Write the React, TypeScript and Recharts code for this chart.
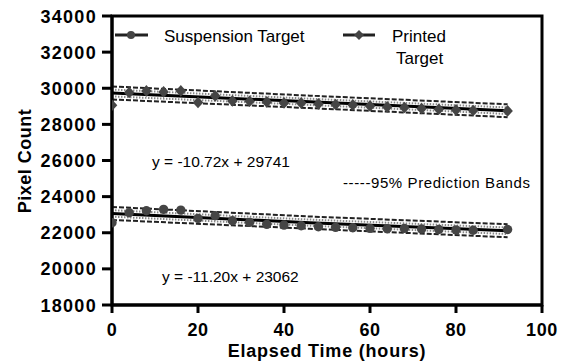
import React from "react";
import {
  ComposedChart,
  Customized,
  Line,
  ReferenceArea,
  Scatter,
  XAxis,
  YAxis,
} from "recharts";

// sampling times (hours)
const hours = [0, 4, 8, 12, 16, 20, 24, 28, 32, 36, 40, 44, 48, 52, 56, 60, 64, 68, 72, 76, 80, 84, 92];
const printedCounts = [
  29062, 29764, 29853, 29797, 29853, 29211, 29576, 29300, 29283, 29244, 29189, 29189,
  29134, 29100, 29078, 29023, 28968, 28935, 28879, 28840, 28802, 28769, 28746,
];
const suspensionCounts = [
  22553, 23106, 23216, 23294, 23255, 22796, 22940, 22664, 22575, 22465, 22426, 22387,
  22332, 22299, 22276, 22243, 22221, 22240, 22210, 22180, 22160, 22140, 22180,
];

// fit lines and bands, read at start / middle / end
const bandHours = [0, 46, 92];
const printedFit = [29741, 29248, 28755];
const printedUpper = [30100, 29590, 29110];
const printedLower = [29380, 28900, 28400];
const printedInnerUp = [29930, 29420, 28935];
const printedInnerLo = [29550, 29075, 28575];
const suspensionFit = [23070, 22560, 22110];
const suspensionUpper = [23430, 22900, 22470];
const suspensionLower = [22710, 22220, 21750];
const suspensionInnerUp = [23250, 22730, 22290];
const suspensionInnerLo = [22890, 22390, 21930];

const xTicks = [0, 20, 40, 60, 80, 100];
const yTicks = [18000, 20000, 22000, 24000, 26000, 28000, 30000, 32000, 34000];

const FONT = "'Liberation Sans', Arial, Helvetica, sans-serif";

const pts = (xs: number[], ys: number[]) => xs.map((x, i) => ({ x, y: ys[i] }));
const printedPts = pts(hours, printedCounts);
const suspensionPts = pts(hours, suspensionCounts);

const XTick = ({ x, y, payload }: any) => (
  <text x={x} y={y} dy={21} textAnchor="middle" fontFamily={FONT} fontWeight="bold" fontSize={18} letterSpacing={0.6} fill="#000">
    {payload.value}
  </text>
);

const YTick = ({ x, y, payload }: any) => (
  <text x={x - 3} y={y} dy={6.5} textAnchor="end" fontFamily={FONT} fontWeight="bold" fontSize={18} letterSpacing={1.3} fill="#000">
    {payload.value}
  </text>
);

const Dot = (p: any) => <circle cx={p.cx} cy={p.cy} r={4.7} fill="#454545" />;
const Diamond = (p: any) => (
  <path d={`M${p.cx},${p.cy - 5.8}L${p.cx + 5.3},${p.cy}L${p.cx},${p.cy + 5.8}L${p.cx - 5.3},${p.cy}Z`} fill="#454545" />
);

function Annotations() {
  const txt = { fontFamily: FONT, fill: "#000" };
  return (
    <g>
      {/* legend */}
      <line x1={115} y1={35} x2={148} y2={35} stroke="#222" strokeWidth={3} />
      <circle cx={131} cy={35} r={4} fill="#454545" />
      <text x={164} y={42} fontSize={17} {...txt}>Suspension Target</text>
      <line x1={343} y1={35} x2={375} y2={35} stroke="#222" strokeWidth={3} />
      <path d="M359,30L364,35L359,40L354,35Z" fill="#454545" />
      <text x={392} y={42} fontSize={17} {...txt}>Printed</text>
      <text x={396} y={64} fontSize={17} {...txt}>Target</text>

      <text x={152} y={167} fontSize={15.5} {...txt}>y = -10.72x + 29741</text>
      <text x={343} y={188} fontSize={15} letterSpacing={0.6} {...txt}>-----95% Prediction Bands</text>
      <text x={162} y={282} fontSize={15.5} {...txt}>y = -11.20x + 23062</text>

      <text x={327} y={357} textAnchor="middle" fontSize={18} fontWeight="bold" letterSpacing={0.8} {...txt}>
        Elapsed Time (hours)
      </text>
      <text
        x={25}
        y={161}
        transform="rotate(-90 25 161)"
        textAnchor="middle"
        dominantBaseline="central"
        fontSize={18}
        fontWeight="bold"
        letterSpacing={0.5}
        {...txt}
      >
        Pixel Count
      </text>
    </g>
  );
}

const bandLine = (key: string, ys: number[], dash: string, color: string, w: number) => (
  <Line
    key={key}
    data={pts(bandHours, ys)}
    dataKey="y"
    type="linear"
    stroke={color}
    strokeWidth={w}
    strokeDasharray={dash}
    dot={false}
    activeDot={false}
    isAnimationActive={false}
    legendType="none"
  />
);

export default function App() {
  return (
    <div style={{ position: "absolute", left: 0, top: 0, background: "#fff" }}>
      <ComposedChart width={571} height={363} margin={{ top: 16, right: 29, bottom: 0, left: 0 }}>
        <XAxis
          type="number"
          dataKey="x"
          domain={[0, 100]}
          ticks={xTicks}
          height={58}
          tickSize={8}
          axisLine={{ stroke: "#000", strokeWidth: 3 }}
          tickLine={{ stroke: "#000", strokeWidth: 3 }}
          tick={<XTick />}
          allowDataOverflow
        />
        <YAxis
          type="number"
          dataKey="y"
          domain={[18000, 34000]}
          ticks={yTicks}
          width={112}
          tickSize={10}
          axisLine={{ stroke: "#000", strokeWidth: 3 }}
          tickLine={{ stroke: "#000", strokeWidth: 3 }}
          tick={<YTick />}
          allowDataOverflow
        />
        <ReferenceArea x1={0} x2={100} y1={18000} y2={34000} fill="none" stroke="#000" strokeWidth={3} ifOverflow="visible" />

        {bandLine("pu", printedUpper, "5 2", "#222", 2)}
        {bandLine("pl", printedLower, "5 2", "#222", 2)}
        {bandLine("piu", printedInnerUp, "1.5 1.5", "#888", 2)}
        {bandLine("pil", printedInnerLo, "1.5 1.5", "#888", 2)}
        {bandLine("su", suspensionUpper, "5 2", "#222", 2)}
        {bandLine("sl", suspensionLower, "5 2", "#222", 2)}
        {bandLine("siu", suspensionInnerUp, "1.5 1.5", "#888", 2)}
        {bandLine("sil", suspensionInnerLo, "1.5 1.5", "#888", 2)}
        {bandLine("pf", printedFit, "", "#000", 3)}
        {bandLine("sf", suspensionFit, "", "#000", 3)}

        <Scatter data={printedPts} dataKey="y" shape={Diamond} isAnimationActive={false} />
        <Scatter data={suspensionPts} dataKey="y" shape={Dot} isAnimationActive={false} />

        <Customized component={Annotations} />
      </ComposedChart>
    </div>
  );
}
